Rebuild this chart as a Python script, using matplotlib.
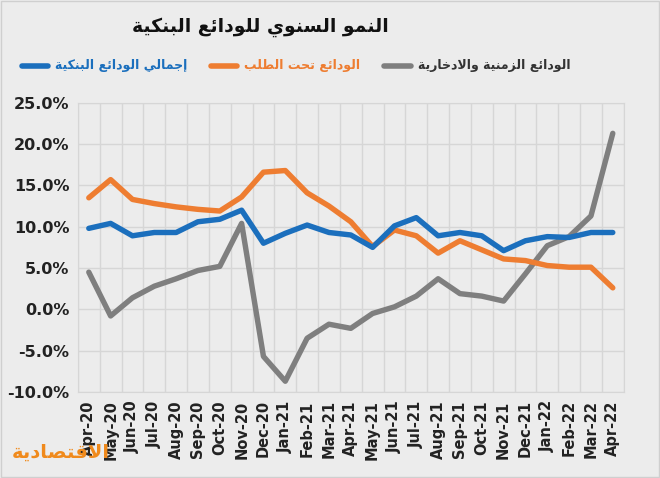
import numpy as np
import matplotlib
matplotlib.use('Agg')
import matplotlib.pyplot as plt
from matplotlib.lines import Line2D
from matplotlib.ticker import FuncFormatter

months = ['Apr-20', 'May-20', 'Jun-20', 'Jul-20', 'Aug-20', 'Sep-20', 'Oct-20', 'Nov-20',
          'Dec-20', 'Jan-21', 'Feb-21', 'Mar-21', 'Apr-21', 'May-21', 'Jun-21', 'Jul-21',
          'Aug-21', 'Sep-21', 'Oct-21', 'Nov-21', 'Dec-21', 'Jan-22', 'Feb-22', 'Mar-22', 'Apr-22']

total_deposits = [9.8, 10.4, 8.9, 9.3, 9.3, 10.6, 10.9, 12.0, 8.0, 9.2, 10.2, 9.3, 9.0,
                  7.5, 10.1, 11.1, 8.9, 9.3, 8.9, 7.1, 8.3, 8.8, 8.7, 9.3, 9.3]
demand_deposits = [13.5, 15.7, 13.3, 12.8, 12.4, 12.1, 11.9, 13.6, 16.6, 16.8, 14.1, 12.5, 10.6,
                   7.6, 9.6, 8.9, 6.8, 8.3, 7.2, 6.1, 5.9, 5.3, 5.1, 5.1, 2.6]
time_savings = [4.5, -0.8, 1.4, 2.8, 3.7, 4.7, 5.2, 10.4, -5.7, -8.7, -3.5, -1.8, -2.3,
                -0.5, 0.3, 1.6, 3.7, 1.9, 1.6, 1.0, 4.3, 7.7, 8.8, 11.3, 21.3]

title = 'النمو السنوي للودائع البنكية'
labels = ['إجمالي الودائع البنكية', 'الودائع تحت الطلب', 'الودائع الزمنية والادخارية']
logo = 'الاقتصادية'

BLUE = '#1b6fbd'
ORANGE = '#ee7d31'
GRAY = '#7f7f7f'
BG = '#ececec'

# matplotlib has no arabic shaping, so map letters to presentation forms by hand
# (isolated, final, initial, medial)
FORMS = {
    'ا': (0xFE8D, 0xFE8E, None, None), 'إ': (0xFE87, 0xFE88, None, None),
    'ب': (0xFE8F, 0xFE90, 0xFE91, 0xFE92), 'ة': (0xFE93, 0xFE94, None, None),
    'ت': (0xFE95, 0xFE96, 0xFE97, 0xFE98), 'ج': (0xFE9D, 0xFE9E, 0xFE9F, 0xFEA0),
    'ح': (0xFEA1, 0xFEA2, 0xFEA3, 0xFEA4), 'خ': (0xFEA5, 0xFEA6, 0xFEA7, 0xFEA8),
    'د': (0xFEA9, 0xFEAA, None, None), 'ر': (0xFEAD, 0xFEAE, None, None),
    'ز': (0xFEAF, 0xFEB0, None, None), 'س': (0xFEB1, 0xFEB2, 0xFEB3, 0xFEB4),
    'ص': (0xFEB9, 0xFEBA, 0xFEBB, 0xFEBC), 'ط': (0xFEC1, 0xFEC2, 0xFEC3, 0xFEC4),
    'ع': (0xFEC9, 0xFECA, 0xFECB, 0xFECC), 'ق': (0xFED5, 0xFED6, 0xFED7, 0xFED8),
    'ك': (0xFED9, 0xFEDA, 0xFEDB, 0xFEDC), 'ل': (0xFEDD, 0xFEDE, 0xFEDF, 0xFEE0),
    'م': (0xFEE1, 0xFEE2, 0xFEE3, 0xFEE4), 'ن': (0xFEE5, 0xFEE6, 0xFEE7, 0xFEE8),
    'و': (0xFEED, 0xFEEE, None, None), 'ي': (0xFEF1, 0xFEF2, 0xFEF3, 0xFEF4),
    'ئ': (0xFE89, 0xFE8A, 0xFE8B, 0xFE8C),
}
LAM_ALEF = {'ا': (0xFEFB, 0xFEFC), 'إ': (0xFEF9, 0xFEFA)}


def shape_arabic(text):
    chars = list(text)
    out = []
    i = 0
    prev_joins = False
    while i < len(chars):
        c = chars[i]
        if c not in FORMS:
            out.append(c)
            prev_joins = False
            i += 1
            continue
        if c == 'ل' and i + 1 < len(chars) and chars[i + 1] in LAM_ALEF:
            iso, fin = LAM_ALEF[chars[i + 1]]
            out.append(chr(fin if prev_joins else iso))
            prev_joins = False
            i += 2
            continue
        iso, fin, ini, med = FORMS[c]
        next_ok = i + 1 < len(chars) and chars[i + 1] in FORMS and ini is not None
        if prev_joins and next_ok:
            code = med
        elif prev_joins:
            code = fin
        elif next_ok:
            code = ini
        else:
            code = iso
        out.append(chr(code))
        prev_joins = ini is not None
        i += 1
    return ''.join(out)[::-1]


plt.rcParams['font.family'] = ['DejaVu Sans']

W, H = 660, 478
fig = plt.figure(figsize=(W / 100, H / 100), dpi=100, facecolor=BG)
ax = fig.add_axes([0.118, 0.180, 0.827, 0.605])
ax.set_facecolor(BG)

x = np.arange(len(months))
for vals, col in [(time_savings, GRAY), (demand_deposits, ORANGE), (total_deposits, BLUE)]:
    ax.plot(x, vals, color=col, lw=3.9, solid_capstyle='round', solid_joinstyle='round', zorder=3)

ax.set_xlim(-0.5, len(months) - 0.5)
ax.set_ylim(-10, 25)
ax.set_yticks(np.arange(-10, 26, 5))
ax.yaxis.set_major_formatter(FuncFormatter(lambda v, p: '{:.1f}%'.format(v)))
ax.set_xticks(x)
ax.set_xticklabels(months, rotation=90, fontsize=10.5, fontweight='bold', color='#222222')
for lab in ax.get_yticklabels():
    lab.set_fontsize(11.5)
    lab.set_fontweight('bold')
    lab.set_color('#222222')
ax.tick_params(length=0, pad=6)

# excel-style grid: vertical lines between categories
ax.set_xticks(np.arange(-0.5, len(months), 1), minor=True)
ax.grid(which='minor', axis='x', color='#d6d6d6', lw=1)
ax.grid(which='major', axis='y', color='#d6d6d6', lw=1)
ax.tick_params(which='minor', length=0)
for s in ax.spines.values():
    s.set_color('#d6d6d6')

fig.text(260 / W, 1 - 27 / H, shape_arabic(title), ha='center', va='center',
         fontsize=13.5, fontweight='bold', color='#111111')

# legend row, laid out left to right by measuring each label
renderer = fig.canvas.get_renderer()
legend_items = [(labels[0], BLUE, BLUE), (labels[1], ORANGE, ORANGE), (labels[2], GRAY, '#333333')]
ly = 1 - 66 / H
cur = 22
for txt, col, tcol in legend_items:
    fig.add_artist(Line2D([cur / W, (cur + 26) / W], [ly, ly], transform=fig.transFigure,
                          color=col, lw=4, solid_capstyle='round'))
    t = fig.text((cur + 33) / W, ly, shape_arabic(txt), ha='left', va='center',
                 fontsize=9, fontweight='bold', color=tcol)
    cur = t.get_window_extent(renderer).x1 + 24

fig.text(12 / W, 1 - 452 / H, shape_arabic(logo), ha='left', va='center',
         fontsize=14, fontweight='bold', color='#f08a1c')

fig.add_artist(plt.Rectangle((0.002, 0.002), 0.996, 0.996, transform=fig.transFigure,
                             fill=False, edgecolor='#cfcfcf', lw=1))

fig.savefig('out.png', dpi=100, facecolor=BG)
